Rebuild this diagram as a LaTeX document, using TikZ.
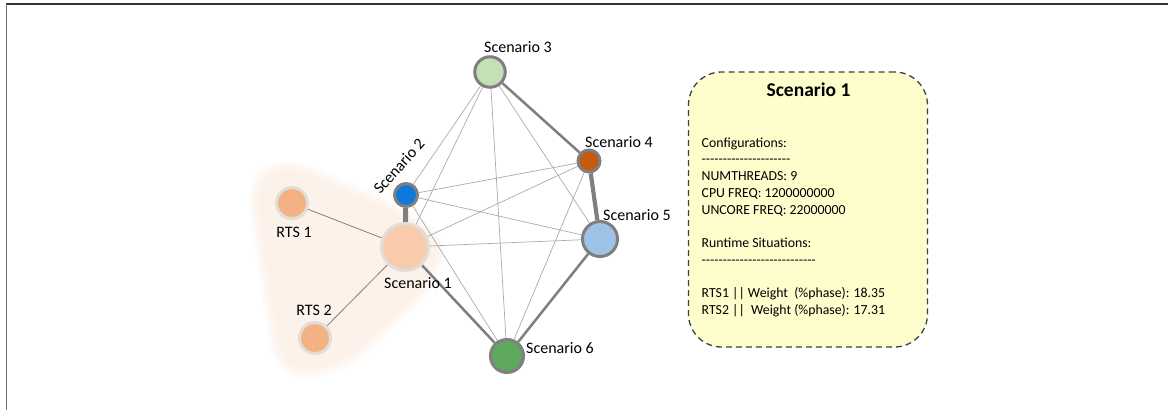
\documentclass[tikz,border=0pt]{standalone}
\usepackage{fontspec}
\setmainfont{Carlito}
\usetikzlibrary{backgrounds}
\definecolor{bordc}{HTML}{7F7F7F}
\definecolor{lightb}{HTML}{E2DDD9}
\definecolor{weakc}{HTML}{ABABAB}
\definecolor{strongc}{HTML}{7F7F7F}
\definecolor{rtsedge}{HTML}{808080}
\definecolor{cthree}{HTML}{C5E0B4}
\definecolor{cfour}{HTML}{C55A11}
\definecolor{ctwo}{HTML}{0E78DC}
\definecolor{cfive}{HTML}{9DC3E6}
\definecolor{csix}{HTML}{5EA95E}
\definecolor{cone}{HTML}{F8CBAD}
\definecolor{crts}{HTML}{F4B183}
\definecolor{shade}{HTML}{FDF2EA}
\definecolor{boxfill}{HTML}{FEFDCC}
\definecolor{boxline}{HTML}{404040}
\definecolor{framec}{HTML}{333333}
\newcommand{\hyrep}[1]{\foreach \i in {1,...,#1}{\mbox{-}}}
\begin{document}
\begin{tikzpicture}[x=1pt,y=-1pt,
  scen/.style={circle, draw=bordc, line width=3pt, inner sep=0pt},
  soft/.style={circle, draw=lightb, line width=3pt, inner sep=0pt},
  lab/.style={font=\fontsize{16}{19}\selectfont, inner sep=0pt},
  boxtxt/.style={font=\fontsize{13.8}{16.7}\selectfont, inner sep=0pt, anchor=base west},
  weakedge/.style={draw=weakc, line width=0.7pt},
  strongedge/.style={draw=strongc, line width=#1},
  rtsline/.style={draw=rtsedge, line width=0.8pt}]
\useasboundingbox (0,0) rectangle (1168,410);

% nodes
\node[scen, fill=cthree, minimum size=30.5pt] (s3) at (490,72) {};
\node[scen, fill=cfour, minimum size=22pt] (s4) at (589,161) {};
\node[scen, fill=ctwo, minimum size=23pt] (s2) at (406,195) {};
\node[scen, fill=cfive, minimum size=35pt] (s5) at (600,239) {};
\node[soft, fill=cone, minimum size=47pt] (s1) at (405,247) {};
\node[scen, fill=csix, minimum size=33pt] (s6) at (507,356) {};
\node[soft, fill=crts, minimum size=31pt] (r1) at (292,203) {};
\node[soft, fill=crts, minimum size=31pt] (r2) at (315,338) {};

% labels
\node[lab] (l3) at (518,47) {Scenario 3};
\node[lab] (l4) at (619,142) {Scenario 4};
\node[lab, rotate=48] (l2) at (399,166) {Scenario 2};
\node[lab] (l5) at (637,215) {Scenario 5};
\node[lab] (l1) at (418,283) {Scenario 1};
\node[lab] (l6) at (560,348) {Scenario 6};
\node[lab] (lr1) at (294,232) {RTS 1};
\node[lab] (lr2) at (314,310) {RTS 2};

% info box
\node[draw=boxline, fill=boxfill, line width=1.3pt, dash pattern=on 6pt off 4pt,
      rounded corners=33pt, minimum width=239pt, minimum height=275pt, inner sep=0pt]
      (box) at (808,209.5) {};
\node[font=\fontsize{19.5}{22}\bfseries, inner sep=0pt] (title) at (808.5,89.5) {Scenario 1};
\node[boxtxt] (t1) at (701.5,147.2) {Configurations:};
\node[boxtxt] (t2) at (701.5,163.9) {\hyrep{21}};
\node[boxtxt] (t3) at (701.5,180.6) {NUMTHREADS: 9};
\node[boxtxt] (t4) at (701.5,197.3) {CPU FREQ: 1200000000};
\node[boxtxt] (t5) at (701.5,214.0) {UNCORE FREQ: 22000000};
\node[boxtxt] (t6) at (701.5,247.4) {Runtime Situations:};
\node[boxtxt] (t7) at (701.5,264.1) {\hyrep{27}};
\node[boxtxt] (t8) at (701.5,297.5) {RTS1 || Weight\ \ (\%phase): 18.35};
\node[boxtxt] (t9) at (701.5,314.2) {RTS2 ||\ \ Weight (\%phase): 17.31};

\begin{scope}[on background layer]
  \fill[white] (0,0) rectangle (1168,410);
  % cluster shading (soft edges)
  \foreach \w/\o in {20/0.25, 13/0.35, 7/0.5}{
    \path[draw=shade, line width=\w pt, opacity=\o, rounded corners=14pt]
      (262,176) -- (292,168) -- (395,213) -- (440,245) -- (418,292) -- (345,360) -- (300,371) -- (281,356) -- (258,205) -- cycle;
  }
  \path[fill=shade, rounded corners=14pt]
    (262,176) -- (292,168) -- (395,213) -- (440,245) -- (418,292) -- (345,360) -- (300,371) -- (281,356) -- (258,205) -- cycle;
  % weak edges
  \draw[weakedge] (s3) -- (s2);
  \draw[weakedge] (s3) -- (s1);
  \draw[weakedge] (s3) -- (s6);
  \draw[weakedge] (s3) -- (s5);
  \draw[weakedge] (s4) -- (s2);
  \draw[weakedge] (s4) -- (s1);
  \draw[weakedge] (s4) -- (s6);
  \draw[weakedge] (s2) -- (s5);
  \draw[weakedge] (s2) -- (s6);
  \draw[weakedge] (s1) -- (s5);
  % strong edges
  \draw[strongedge=2.5pt] (s3) -- (s4);
  \draw[strongedge=4.2pt] (s4) -- (s5);
  \draw[strongedge=2.5pt] (s5) -- (s6);
  \draw[strongedge=2.5pt] (s1) -- (s6);
  \draw[strongedge=5pt] (s2) -- (s1);
  % rts edges
  \draw[rtsline] (r1) -- (s1);
  \draw[rtsline] (r2) -- (s1);
  % frame
  \draw[framec, line width=2pt] (6,4) -- (1168,4);
  \draw[bordc!90!black, line width=1.5pt] (6.5,4) -- (6.5,410);
\end{scope}
\end{tikzpicture}
\end{document}
